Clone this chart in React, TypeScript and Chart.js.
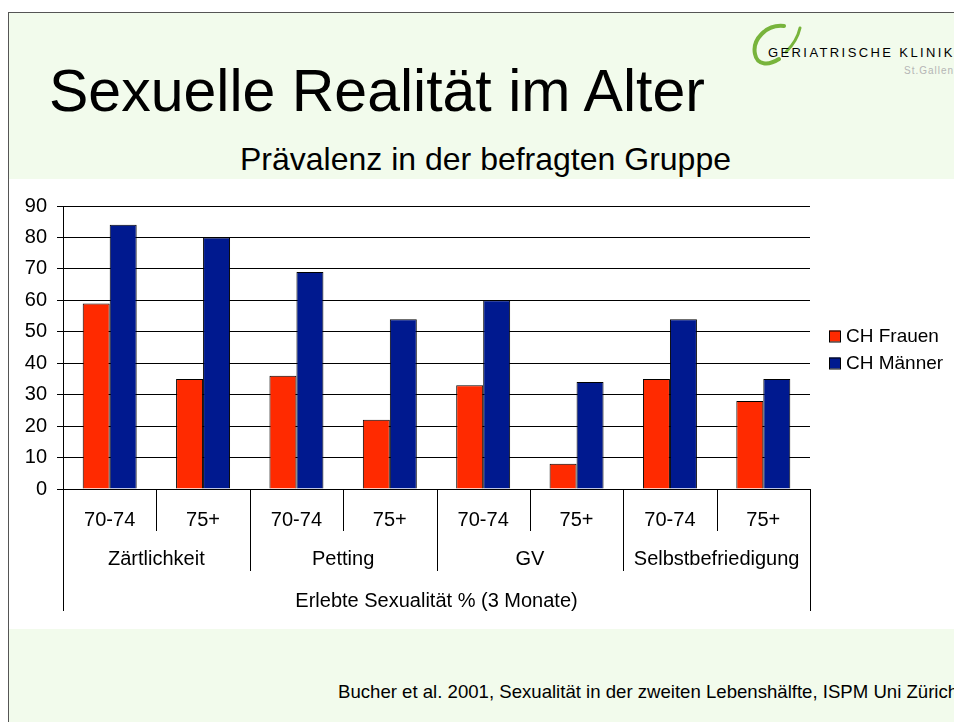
import React, { useEffect, useRef } from 'react';
import { Chart, registerables } from 'chart.js';

Chart.register(...registerables);

const subCategories = ['70-74', '75+', '70-74', '75+', '70-74', '75+', '70-74', '75+'];
const groups = ['Zärtlichkeit', 'Petting', 'GV', 'Selbstbefriedigung'];
const frauen = [59, 35, 36, 22, 33, 8, 35, 28];
const maenner = [84, 80, 69, 54, 60, 34, 54, 35];
const seriesNames = ['CH Frauen', 'CH Männer'];
const seriesColors = ['#ff2a00', '#00198f'];
const axisTitle = 'Erlebte Sexualität % (3 Monate)';
const yMin = 0;
const yMax = 90;
const yStep = 10;

const FONT = '"Liberation Sans", Arial, Helvetica, sans-serif';

const tablePlugin = {
  id: 'xtable',
  afterDraw(chart: any) {
    const { ctx, chartArea, scales } = chart;
    const x = scales.x;
    const n = subCategories.length;
    const bottom = chartArea.bottom;
    const centers = subCategories.map((_, i) => x.getPixelForValue(i));
    const bounds: number[] = [chartArea.left];
    for (let i = 1; i < n; i++) bounds.push((centers[i - 1] + centers[i]) / 2);
    bounds.push(chartArea.right);
    ctx.save();
    ctx.strokeStyle = '#000';
    ctx.lineWidth = 1;
    bounds.forEach((b, i) => {
      const len = i === 0 || i === n ? 122 : i % 2 === 0 ? 82 : 42;
      const xx = Math.round(b) + 0.5;
      ctx.beginPath();
      ctx.moveTo(xx, bottom);
      ctx.lineTo(xx, bottom + len);
      ctx.stroke();
    });
    ctx.fillStyle = '#000';
    ctx.font = '20px ' + FONT;
    ctx.textAlign = 'center';
    ctx.textBaseline = 'middle';
    subCategories.forEach((s, i) => ctx.fillText(s, centers[i], bottom + 31));
    groups.forEach((g, gi) => ctx.fillText(g, (bounds[gi * 2] + bounds[gi * 2 + 2]) / 2, bottom + 70));
    ctx.fillText(axisTitle, (chartArea.left + chartArea.right) / 2, bottom + 112);

    // legend
    ctx.font = '19px ' + FONT;
    ctx.textAlign = 'left';
    const lx = chartArea.right + 19;
    const ly = [336, 363];
    chart.data.datasets.forEach((ds: any, i: number) => {
      ctx.fillStyle = ds.backgroundColor;
      ctx.fillRect(lx, ly[i] - 5.5, 11, 11);
      ctx.strokeStyle = '#000';
      ctx.strokeRect(lx + 0.5, ly[i] - 5.5 + 0.5, 11, 11);
      ctx.fillStyle = '#000';
      ctx.fillText(ds.label, lx + 17, ly[i] + 1);
    });
    ctx.restore();
  },
};

function Txt(props: { x: number; baseline: number; size: number; children: any; color?: string; spacing?: number }) {
  const { x, baseline, size, children, color, spacing } = props;
  return (
    <div
      style={{
        position: 'absolute',
        left: x,
        top: baseline - 0.8465 * size,
        fontSize: size,
        lineHeight: 1,
        fontFamily: FONT,
        color: color || '#000',
        whiteSpace: 'nowrap',
        letterSpacing: spacing || 0,
      }}
    >
      {children}
    </div>
  );
}

export default function App() {
  const ref = useRef<HTMLCanvasElement>(null);
  useEffect(() => {
    if (!ref.current) return;
    const chart = new Chart(ref.current, {
      type: 'bar',
      data: {
        labels: subCategories,
        datasets: [
          {
            label: seriesNames[0],
            data: frauen,
            backgroundColor: seriesColors[0],
            borderColor: '#000',
            borderWidth: 1,
            categoryPercentage: 0.578,
            barPercentage: 1,
          },
          {
            label: seriesNames[1],
            data: maenner,
            backgroundColor: seriesColors[1],
            borderColor: '#000',
            borderWidth: 1,
            categoryPercentage: 0.578,
            barPercentage: 1,
          },
        ],
      },
      options: {
        responsive: false,
        animation: false,
        devicePixelRatio: 1,
        layout: { padding: { left: 0, top: 206, right: 144, bottom: 233 } },
        plugins: { legend: { display: false }, tooltip: { enabled: false }, title: { display: false } },
        scales: {
          x: { display: false },
          y: {
            min: yMin,
            max: yMax,
            afterFit(s: any) {
              s.width = 63;
            },
            ticks: { stepSize: yStep, color: '#000', font: { size: 20, family: FONT }, padding: 10 },
            grid: { color: '#000', lineWidth: 1, tickLength: 6, drawTicks: true },
            border: { display: true, color: '#000', width: 1 },
          },
        },
      },
      plugins: [tablePlugin],
    });
    return () => chart.destroy();
  }, []);

  return (
    <div style={{ position: 'absolute', left: 0, top: 0, width: 954, height: 722, overflow: 'hidden', background: '#fff' }}>
      <div
        style={{
          position: 'absolute',
          left: 8,
          top: 12,
          width: 946,
          height: 710,
          background: '#f2fbec',
          borderLeft: '1px solid #555',
          borderTop: '1px solid #555',
        }}
      />
      <div style={{ position: 'absolute', left: 9, top: 179, width: 945, height: 450, background: '#fff' }} />
      <Txt x={49} baseline={112} size={59}>Sexuelle Realität im Alter</Txt>
      <Txt x={240} baseline={170} size={32}>Prävalenz in der befragten Gruppe</Txt>
      <Txt x={338} baseline={699} size={18.6}>Bucher et al. 2001, Sexualität in der zweiten Lebenshälfte, ISPM Uni Zürich</Txt>
      <svg style={{ position: 'absolute', left: 0, top: 0 }} width={954} height={722}>
        <path d="M 784 26 C 766 24, 752 40, 755 54 C 757 65, 768 66, 779 59" stroke="#78b43c" strokeWidth={4} fill="none" strokeLinecap="round" />
        <path d="M 800 28 C 798 37, 794 44, 786 52" stroke="#78b43c" strokeWidth={3} fill="none" strokeLinecap="round" />
      </svg>
      <Txt x={768} baseline={57} size={13} spacing={2.4}>GERIATRISCHE KLINIK</Txt>
      <Txt x={904} baseline={74} size={10} spacing={1} color="#b5b5b5">St.Gallen</Txt>
      <canvas ref={ref} width={954} height={722} style={{ position: 'absolute', left: 0, top: 0, width: 954, height: 722 }} />
    </div>
  );
}
